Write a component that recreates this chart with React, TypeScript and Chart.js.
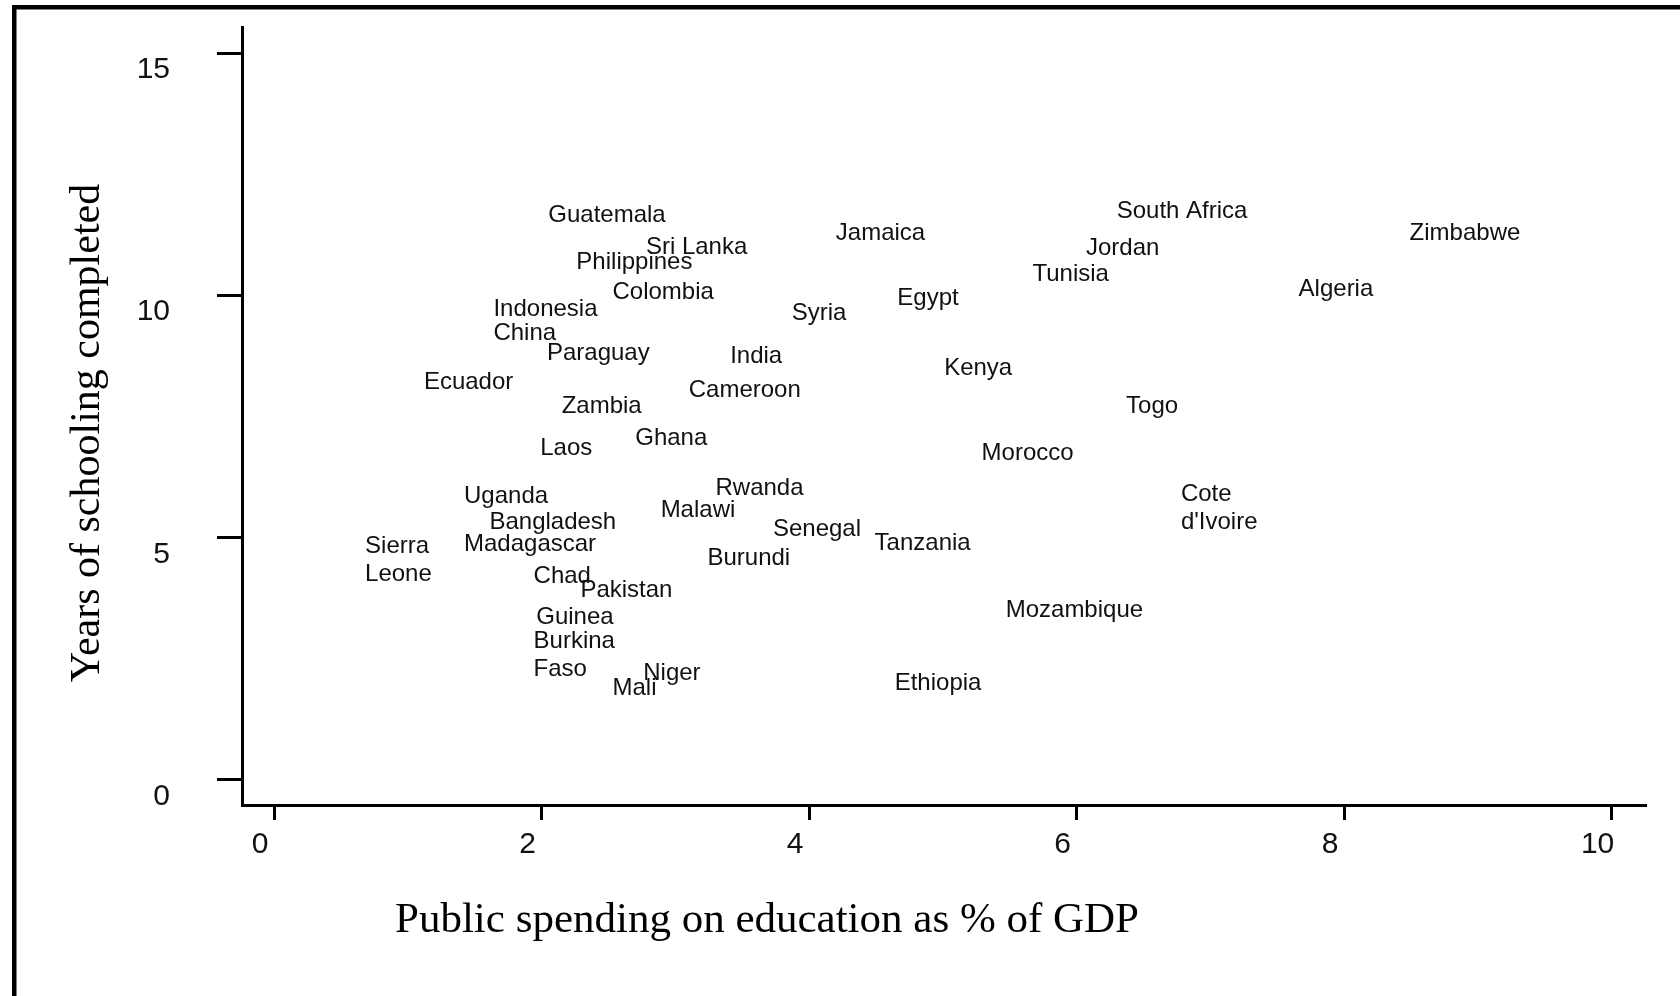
import React, { useEffect, useRef } from "react";
import { Chart, registerables } from "chart.js";

Chart.register(...registerables);

// ---- data ----
const countries = [
  "Guatemala", "Sri Lanka", "Philippines", "Colombia", "Indonesia", "China",
  "Paraguay", "Ecuador", "Zambia", "Laos", "Ghana", "India", "Cameroon",
  "Syria", "Jamaica", "Egypt", "Kenya", "South Africa", "Jordan", "Tunisia",
  "Zimbabwe", "Algeria", "Togo", "Morocco", "Cote\nd'Ivoire", "Rwanda",
  "Malawi", "Uganda", "Bangladesh", "Madagascar", "Sierra\nLeone", "Senegal",
  "Tanzania", "Burundi", "Chad", "Pakistan", "Guinea", "Burkina\nFaso",
  "Niger", "Mali", "Mozambique", "Ethiopia",
];

const spending = [
  2.05, 2.78, 2.26, 2.53, 1.64, 1.64,
  2.04, 1.12, 2.15, 1.99, 2.70, 3.41, 3.10,
  3.87, 4.20, 4.66, 5.01, 6.30, 6.07, 5.67,
  8.49, 7.66, 6.37, 5.29, 6.78, 3.30,
  2.89, 1.42, 1.61, 1.42, 0.68, 3.73,
  4.49, 3.24, 1.94, 2.29, 1.96, 1.94,
  2.76, 2.53, 5.47, 4.64,
];

const schooling = [
  11.69, 11.02, 10.71, 10.10, 9.75, 9.26,
  8.84, 8.24, 7.75, 6.87, 7.09, 8.78, 8.07,
  9.66, 11.32, 9.97, 8.53, 11.78, 11.01, 10.48,
  11.32, 10.17, 7.75, 6.78, 5.64, 6.05,
  5.59, 5.88, 5.34, 4.90, 4.57, 5.21,
  4.92, 4.61, 4.24, 3.95, 3.39, 2.60,
  2.23, 1.91, 3.53, 2.02,
];

const xTicks = [0, 2, 4, 6, 8, 10];
const yTicks = [0, 5, 10, 15];
const xTitle = "Public spending on education as % of GDP";
const yTitle = "Years of schooling completed";

const SANS = '"Liberation Sans", Arial, Helvetica, sans-serif';
const SERIF = '"Liberation Serif", "Times New Roman", Times, serif';

const framePlugin = {
  id: "frame",
  beforeDraw(chart: any) {
    const ctx = chart.ctx;
    ctx.save();
    ctx.fillStyle = "#fff";
    ctx.fillRect(0, 0, chart.width, chart.height);
    ctx.fillStyle = "#000";
    ctx.fillRect(12, 5, chart.width - 12, 4.5);
    ctx.fillRect(12, 5, 4.5, chart.height - 5);
    ctx.restore();
  },
};

const labelPlugin = {
  id: "countryLabels",
  afterDatasetsDraw(chart: any) {
    const ctx = chart.ctx;
    const meta = chart.getDatasetMeta(0);
    ctx.save();
    ctx.font = `24px ${SANS}`;
    ctx.fillStyle = "#111";
    ctx.textAlign = "left";
    ctx.textBaseline = "middle";
    const lh = 28;
    meta.data.forEach((el: any, i: number) => {
      const lines = countries[i].split("\n");
      lines.forEach((line: string, j: number) => {
        ctx.fillText(line, el.x, el.y + 2 + (j - (lines.length - 1) / 2) * lh);
      });
    });
    ctx.restore();
  },
};

const titlePlugin = {
  id: "axisTitles",
  afterDraw(chart: any) {
    const ctx = chart.ctx;
    ctx.save();
    ctx.fillStyle = "#000";
    ctx.textBaseline = "alphabetic";
    ctx.font = `43px ${SERIF}`;
    ctx.textAlign = "left";
    ctx.fillText(xTitle, 395, 932);
    ctx.translate(99, 433);
    ctx.rotate(-Math.PI / 2);
    ctx.font = `42px ${SERIF}`;
    ctx.textAlign = "center";
    ctx.fillText(yTitle, 0, 0);
    ctx.restore();
  },
};

const zeroPadding = (s: any) => {
  s.paddingTop = 0;
  s.paddingBottom = 0;
  s.paddingLeft = 0;
  s.paddingRight = 0;
};

export default function App() {
  const canvasRef = useRef<HTMLCanvasElement | null>(null);

  useEffect(() => {
    if (!canvasRef.current) return;
    const chart = new Chart(canvasRef.current, {
      type: "scatter",
      data: {
        datasets: [
          {
            data: spending.map((x, i) => ({ x, y: schooling[i] })),
            pointRadius: 0,
            pointHoverRadius: 0,
            showLine: false,
          },
        ],
      },
      options: {
        animation: false,
        responsive: true,
        maintainAspectRatio: false,
        layout: { padding: { top: 27, right: 35, left: 0, bottom: 0 } },
        plugins: {
          legend: { display: false },
          tooltip: { enabled: false },
        },
        events: [],
        scales: {
          x: {
            type: "linear",
            min: -0.24,
            max: 10.25,
            afterBuildTicks: (s: any) => {
              s.ticks = xTicks.map((v) => ({ value: v }));
            },
            afterFit: (s: any) => {
              s.height = 191;
              zeroPadding(s);
            },
            grid: {
              display: true,
              drawOnChartArea: false,
              drawTicks: true,
              tickLength: 15,
              color: "#000",
              lineWidth: 3,
            },
            border: { display: true, color: "#000", width: 3 },
            ticks: {
              font: { family: SANS, size: 30 },
              color: "#111",
              padding: 7,
              labelOffset: -14,
              maxRotation: 0,
              autoSkip: false,
            },
          },
          y: {
            type: "linear",
            min: -0.53,
            max: 15.54,
            afterBuildTicks: (s: any) => {
              s.ticks = yTicks.map((v) => ({ value: v }));
            },
            afterFit: (s: any) => {
              s.width = 242;
              zeroPadding(s);
            },
            grid: {
              display: true,
              drawOnChartArea: false,
              drawTicks: true,
              tickLength: 25,
              color: "#000",
              lineWidth: 3,
            },
            border: { display: true, color: "#000", width: 3 },
            ticks: {
              font: { family: SANS, size: 30 },
              color: "#111",
              padding: 47,
              labelOffset: 17,
              autoSkip: false,
            },
          },
        },
      },
      plugins: [framePlugin, labelPlugin, titlePlugin],
    });
    return () => chart.destroy();
  }, []);

  return (
    <div
      style={{
        position: "fixed",
        left: 0,
        top: 0,
        width: 1680,
        height: 996,
        background: "#fff",
      }}
    >
      <canvas ref={canvasRef} />
    </div>
  );
}
